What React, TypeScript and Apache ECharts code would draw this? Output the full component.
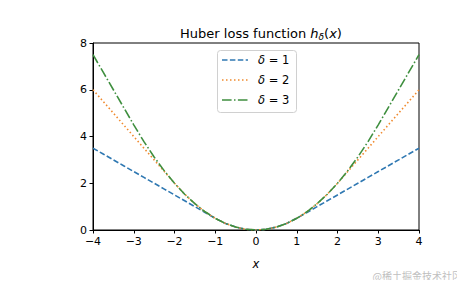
import React, { useEffect, useRef } from "react";
import * as echarts from "echarts";

const xs = [-4, -3.75, -3.5, -3.25, -3, -2.75, -2.5, -2.25, -2, -1.75, -1.5, -1.25, -1, -0.75, -0.5, -0.25, 0, 0.25, 0.5, 0.75, 1, 1.25, 1.5, 1.75, 2, 2.25, 2.5, 2.75, 3, 3.25, 3.5, 3.75, 4];
const delta1 = [3.5, 3.25, 3.0, 2.75, 2.5, 2.25, 2.0, 1.75, 1.5, 1.25, 1.0, 0.75, 0.5, 0.28, 0.125, 0.03, 0, 0.03, 0.125, 0.28, 0.5, 0.75, 1.0, 1.25, 1.5, 1.75, 2.0, 2.25, 2.5, 2.75, 3.0, 3.25, 3.5];
const delta2 = [6.0, 5.5, 5.0, 4.5, 4.0, 3.5, 3.0, 2.5, 2.0, 1.53, 1.125, 0.78, 0.5, 0.28, 0.125, 0.03, 0, 0.03, 0.125, 0.28, 0.5, 0.78, 1.125, 1.53, 2.0, 2.5, 3.0, 3.5, 4.0, 4.5, 5.0, 5.5, 6.0];
const delta3 = [7.5, 6.75, 6.0, 5.25, 4.5, 3.78, 3.125, 2.53, 2.0, 1.53, 1.125, 0.78, 0.5, 0.28, 0.125, 0.03, 0, 0.03, 0.125, 0.28, 0.5, 0.78, 1.125, 1.53, 2.0, 2.53, 3.125, 3.78, 4.5, 5.25, 6.0, 6.75, 7.5];
const seriesNames = ["δ = 1", "δ = 2", "δ = 3"];
const xTicks = [-4, -3, -2, -1, 0, 1, 2, 3, 4];
const yTicks = [0, 2, 4, 6, 8];

const FONT = "DejaVu Sans";
const COLORS = ["#2f78b2", "#f08a2e", "#3f8f3f"];
const DASHES = [[5.5, 2.4], [1.5, 2.5], [9.6, 2.4, 1.5, 2.4]];

export default function App() {
  const ref = useRef<HTMLDivElement>(null);
  useEffect(() => {
    if (!ref.current) return;
    const chart = echarts.init(ref.current, null, { renderer: "svg" });
    const pts = (ys: number[]) => xs.map((x, i) => [x, ys[i]]);
    const mk = (name: string, ys: number[], i: number) => ({
      name,
      type: "line",
      data: pts(ys),
      showSymbol: false,
      symbol: "none",
      lineStyle: { color: COLORS[i], width: 1.6, type: DASHES[i], cap: "butt" },
      itemStyle: { color: COLORS[i] },
    });
    const legendRows = [60, 80, 100];
    const legendGraphics: any[] = [
      {
        type: "rect",
        shape: { x: 217.5, y: 50.5, width: 79, height: 62, r: 3 },
        style: { fill: "#ffffff", stroke: "#d0d0d0", lineWidth: 1 },
        z: 100,
      },
    ];
    seriesNames.forEach((n, i) => {
      legendGraphics.push({
        type: "line",
        shape: { x1: 222, y1: legendRows[i], x2: 248, y2: legendRows[i] },
        style: { stroke: COLORS[i], lineWidth: 1.6, lineDash: DASHES[i] },
        z: 101,
      });
      legendGraphics.push({
        type: "text",
        x: 258,
        y: legendRows[i],
        style: {
          text: "{i|δ}" + n.slice(1),
          font: `11.5px '${FONT}'`,
          fill: "#000",
          verticalAlign: "middle",
          rich: {
            i: { fontFamily: FONT, fontSize: 11.5, fontStyle: "italic", fill: "#000" },
          },
        },
        z: 101,
      });
    });
    chart.setOption({
      animation: false,
      backgroundColor: "#ffffff",
      textStyle: { fontFamily: FONT },
      title: {
        text: "Huber loss function {h|h}{s|δ}{n|(}{h|x}{n|)}",
        left: 256,
        top: 20,
        textAlign: "center",
        textStyle: {
          fontFamily: FONT,
          fontSize: 13,
          fontWeight: "normal",
          color: "#000",
          rich: {
            h: { fontFamily: FONT, fontSize: 13, fontStyle: "italic", color: "#000" },
            s: { fontFamily: FONT, fontSize: 9, fontStyle: "italic", color: "#000", padding: [7, 0, 0, 0] },
            n: { fontFamily: FONT, fontSize: 13, color: "#000" },
          },
        },
      },
      grid: {
        left: 93,
        right: 46,
        top: 43,
        bottom: 58,
        show: true,
        borderColor: "#000",
        borderWidth: 1,
        backgroundColor: "transparent",
      },
      xAxis: {
        type: "value",
        min: xTicks[0],
        max: xTicks[xTicks.length - 1],
        interval: 1,
        name: "x",
        nameLocation: "middle",
        nameGap: 28,
        nameTextStyle: { fontFamily: FONT, fontSize: 11.5, fontStyle: "italic", color: "#000" },
        axisLine: { show: true, onZero: false, lineStyle: { color: "#000", width: 1 } },
        axisTick: { show: true, length: 3.5, lineStyle: { color: "#000", width: 1 } },
        axisLabel: {
          fontFamily: FONT,
          fontSize: 11,
          color: "#000",
          margin: 6,
          formatter: (v: number) => String(v).replace("-", "−"),
        },
        splitLine: { show: false },
      },
      yAxis: {
        type: "value",
        min: yTicks[0],
        max: yTicks[yTicks.length - 1],
        interval: 2,
        axisLine: { show: true, onZero: false, lineStyle: { color: "#000", width: 1 } },
        axisTick: { show: true, length: 3.5, lineStyle: { color: "#000", width: 1 } },
        axisLabel: { fontFamily: FONT, fontSize: 11, color: "#000", margin: 6 },
        splitLine: { show: false },
      },
      graphic: [
        ...legendGraphics,
        {
          type: "text",
          x: 462,
          y: 270,
          style: {
            text: "@稀土掘金技术社区",
            font: "10px 'Noto Sans CJK SC'",
            fill: "#c0c0c0",
            align: "right",
            verticalAlign: "top",
          },
        },
      ],
      series: [
        mk(seriesNames[0], delta1, 0),
        mk(seriesNames[1], delta2, 1),
        mk(seriesNames[2], delta3, 2),
      ],
    });
    return () => chart.dispose();
  }, []);
  return <div ref={ref} style={{ width: 465, height: 288, margin: -8 }} />;
}
